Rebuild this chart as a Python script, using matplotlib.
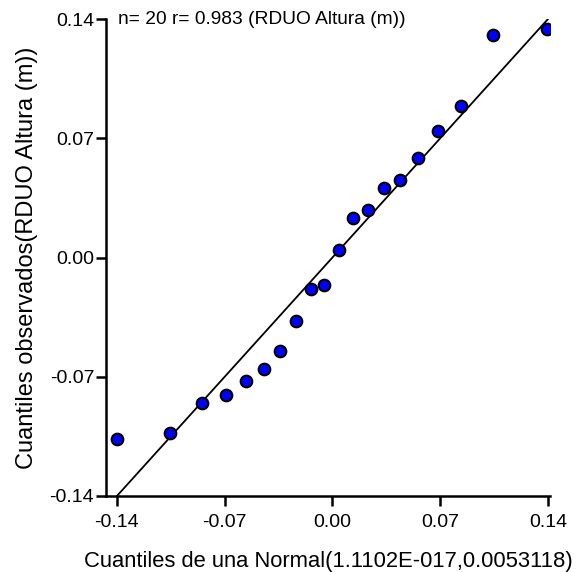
import matplotlib
matplotlib.use("Agg")
import matplotlib.pyplot as plt

plt.rcParams['font.family'] = ['Liberation Sans', 'DejaVu Sans']

theoretical = [-0.1400, -0.1054, -0.0846, -0.0692, -0.0564, -0.0447, -0.0339, -0.0240,
               -0.0142, -0.0053, 0.0044, 0.0135, 0.0228, 0.0336, 0.0440, 0.0555,
               0.0684, 0.0834, 0.1046, 0.1392]
observed = [-0.1067, -0.1032, -0.0855, -0.0807, -0.0725, -0.0654, -0.0547, -0.0370,
            -0.0185, -0.0161, 0.0046, 0.0232, 0.0278, 0.0409, 0.0455, 0.0587,
            0.0740, 0.0892, 0.1305, 0.1341]
ref_line = [-0.14, 0.14]
ticks = [-0.14, -0.07, 0.00, 0.07, 0.14]
tick_labels = ["-0.14", "-0.07", "0.00", "0.07", "0.14"]
annotation = "n= 20 r= 0.983 (RDUO Altura (m))"
xlabel = "Cuantiles de una Normal(1.1102E-017,0.0053118)"
ylabel = "Cuantiles observados(RDUO Altura (m))"

fig = plt.figure(figsize=(5.82, 5.72), dpi=100)
ax = fig.add_axes([106/582, 1-496/572, (550-106)/582, (496-19)/572])

ax.plot(ref_line, ref_line, color='black', lw=1.3, zorder=2)
ax.scatter(theoretical, observed, s=70, facecolor='#0000ff', edgecolor='black',
           linewidth=1.5, zorder=3)

ax.set_xlim(-0.1471, 0.1413)
ax.set_ylim(-0.14, 0.14)
ax.set_xticks(ticks)
ax.set_xticklabels(tick_labels)
ax.set_yticks(ticks)
ax.set_yticklabels(tick_labels)
ax.tick_params(direction='out', length=7, width=1.8, labelsize=14, colors='black')
ax.tick_params(axis='x', pad=6)
ax.tick_params(axis='y', pad=1.5)

for s in ['top', 'right']:
    ax.spines[s].set_visible(False)
for s in ['left', 'bottom']:
    ax.spines[s].set_linewidth(1.8)

ax.set_xlabel(xlabel, fontsize=15.8, labelpad=14)
ax.set_ylabel(ylabel, fontsize=17, labelpad=8)

ax.text(0.028, 1.0, annotation, transform=ax.transAxes, fontsize=13.8,
        va='center', ha='left')

fig.savefig("out.png", dpi=100)
